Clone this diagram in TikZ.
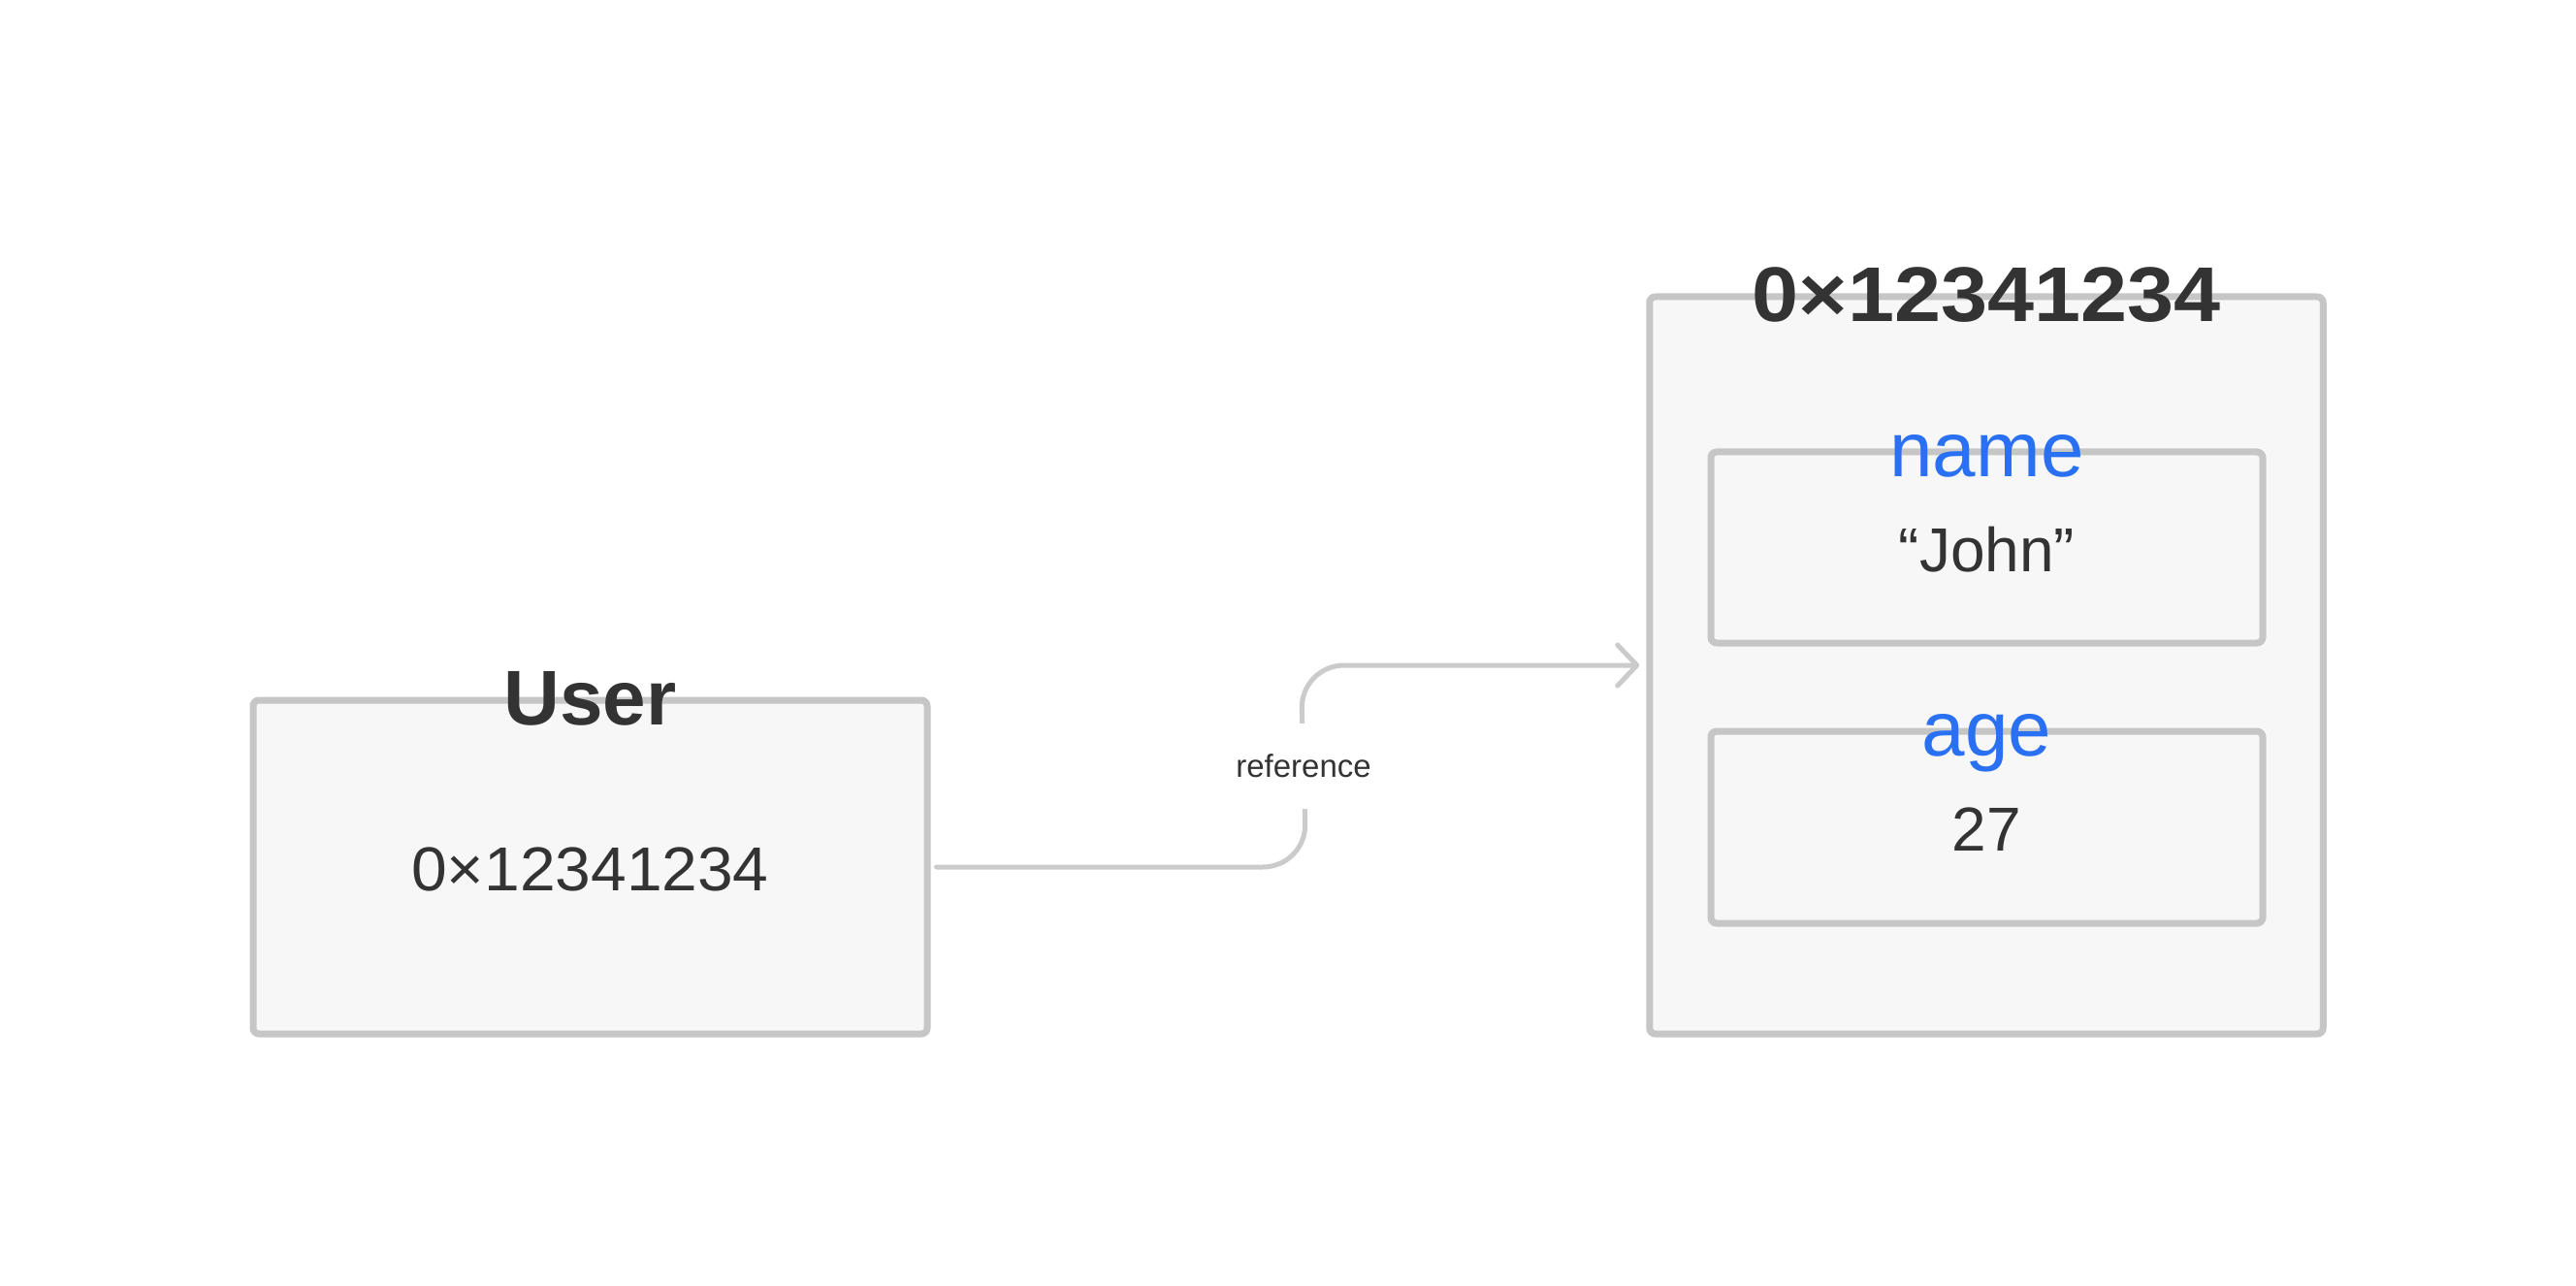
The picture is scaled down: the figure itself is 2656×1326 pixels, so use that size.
\documentclass[tikz,border=0pt]{standalone}
\usepackage{fontspec}
\setmainfont{Liberation Sans}
\newfontfamily\widesans[FakeStretch=1.03]{Liberation Sans}
\newfontfamily\widertitle[FakeStretch=1.08]{Liberation Sans}
\usetikzlibrary{arrows.meta}
\definecolor{ink}{HTML}{333333}
\definecolor{boxfill}{HTML}{F7F7F7}
\definecolor{boxline}{HTML}{C6C6C6}
\definecolor{connline}{HTML}{CBCBCB}
\definecolor{fieldblue}{HTML}{2970F2}
\begin{document}
\begin{tikzpicture}[x=0.5pt,y=-0.5pt,
  box/.style={draw=boxline, fill=boxfill, line width=3.5pt, rounded corners=3pt, inner sep=0pt},
  title/.style={anchor=base, inner sep=0pt, text=ink, font=\fontsize{40pt}{48pt}\selectfont\bfseries},
  field/.style={anchor=base, inner sep=0pt, text=fieldblue, font=\fontsize{40pt}{48pt}\selectfont},
  value/.style={anchor=base, inner sep=0pt, text=ink, font=\fontsize{32pt}{38pt}\selectfont},
  conn/.style={draw=connline, line width=2.5pt, line cap=round, rounded corners=22.5pt},
  lbl/.style={fill=white, text=ink, inner xsep=4pt, inner ysep=0pt, minimum height=44pt, font=\fontsize{16.5pt}{20pt}\selectfont}
]
\useasboundingbox[fill=white] (0,0) rectangle (2656,1326);

% boxes
\node[box, minimum width=347.5pt, minimum height=172pt] (user) at (608.5,894) {};
\node[box, minimum width=347.25pt, minimum height=380pt] (obj) at (2048,686) {};
\node[box, minimum width=284.5pt, minimum height=98.5pt] (namebox) at (2048.5,564.5) {};
\node[box, minimum width=284.5pt, minimum height=99pt] (agebox) at (2048.5,853) {};

% texts
\node[title] (userT) at ([yshift=-14.5pt]user.north) {User};
\node[value] (userV) at ([yshift=-12.25pt]user.center) {\widesans 0×12341234};
\node[title] (objT) at ([yshift=-14.5pt]obj.north) {\widertitle\bfseries 0×12341234};
\node[field] (nameT) at ([yshift=-14.5pt]namebox.north) {name};
\node[value] (nameV) at ([yshift=-12.25pt]namebox.center) {“John”};
\node[field] (ageT) at ([yshift=-14.5pt]agebox.north) {age};
\node[value] (ageV) at ([yshift=-12.25pt]agebox.center) {27};

% connector
\coordinate (mid) at (1341,0);
\draw[conn, -{Straight Barb[length=10pt,width=21pt,round]}]
  ([xshift=3pt]user.east) -- ([xshift=3pt]user.east -| mid)
  -- node[lbl] (refL) {reference} (mid |- obj.west)
  -- ([xshift=-3.5pt]obj.west);
\end{tikzpicture}
\end{document}
